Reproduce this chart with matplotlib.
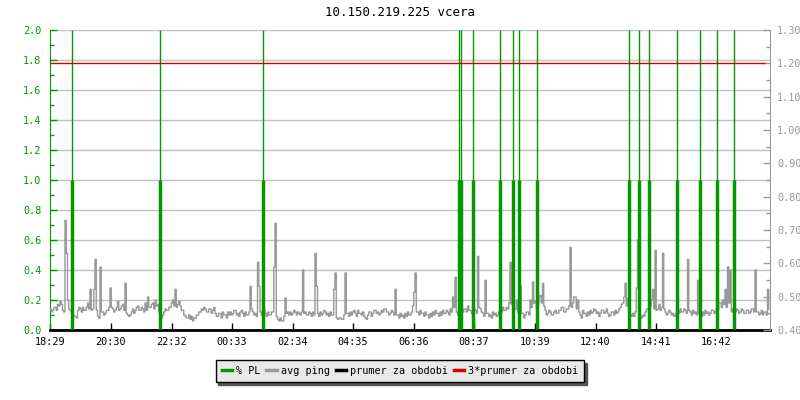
import numpy as np
import matplotlib
matplotlib.use('Agg')
import matplotlib.pyplot as plt
from matplotlib.lines import Line2D
from matplotlib.ticker import MultipleLocator, FormatStrFormatter

plt.rcParams['font.family'] = 'DejaVu Sans Mono'
plt.rcParams['font.size'] = 7.3

title = '10.150.219.225 vcera'
start = '18:29'
tick_labels = ['18:29', '20:30', '22:32', '00:33', '02:34', '04:35',
               '06:36', '08:37', '10:39', '12:40', '14:41', '16:42']

# avg ping, one value per 2.5 minutes from 18:29 (right axis units), one row = 1 hour
ping_step = 2.5
avg_ping = [
    0.463, 0.454, 0.459, 0.468, 0.468, 0.459, 0.477, 0.472, 0.486, 0.477, 0.459, 0.454,
    0.729, 0.630, 0.490, 0.463, 0.459, 0.450, 0.445, 0.441, 0.441, 0.436, 0.459, 0.468,
    0.463, 0.454, 0.468, 0.459, 0.459, 0.468, 0.481, 0.463, 0.522, 0.459, 0.463, 0.522,
    0.612, 0.459, 0.441, 0.436, 0.589, 0.454, 0.454, 0.445, 0.450, 0.459, 0.459, 0.468,
    0.526, 0.468, 0.463, 0.454, 0.459, 0.468, 0.486, 0.459, 0.463, 0.472, 0.477, 0.459,
    0.540, 0.450, 0.445, 0.441, 0.445, 0.454, 0.463, 0.450, 0.459, 0.468, 0.472, 0.459,
    0.459, 0.468, 0.463, 0.454, 0.481, 0.459, 0.499, 0.468, 0.468, 0.477, 0.481, 0.463,
    0.490, 0.472, 0.477, 0.454, 0.441, 0.436, 0.445, 0.454, 0.463, 0.459, 0.459, 0.468,
    0.468, 0.481, 0.490, 0.472, 0.522, 0.468, 0.477, 0.486, 0.472, 0.459, 0.459, 0.445,
    0.441, 0.436, 0.436, 0.445, 0.432, 0.441, 0.427, 0.436, 0.436, 0.445, 0.445, 0.454,
    0.454, 0.463, 0.459, 0.468, 0.463, 0.454, 0.454, 0.463, 0.463, 0.450, 0.459, 0.468,
    0.450, 0.441, 0.441, 0.450, 0.450, 0.436, 0.454, 0.445, 0.445, 0.436, 0.454, 0.445,
    0.454, 0.445, 0.450, 0.459, 0.459, 0.445, 0.450, 0.441, 0.454, 0.459, 0.450, 0.441,
    0.454, 0.445, 0.445, 0.454, 0.531, 0.463, 0.454, 0.445, 0.450, 0.441, 0.603, 0.531,
    0.454, 0.445, 0.454, 0.459, 0.450, 0.441, 0.454, 0.445, 0.445, 0.454, 0.454, 0.589,
    0.720, 0.441, 0.432, 0.427, 0.436, 0.427, 0.427, 0.441, 0.495, 0.450, 0.454, 0.445,
    0.454, 0.445, 0.450, 0.459, 0.454, 0.445, 0.454, 0.450, 0.445, 0.454, 0.580, 0.450,
    0.454, 0.445, 0.445, 0.454, 0.450, 0.441, 0.454, 0.445, 0.630, 0.531, 0.450, 0.441,
    0.454, 0.445, 0.450, 0.459, 0.454, 0.445, 0.450, 0.441, 0.454, 0.445, 0.445, 0.522,
    0.571, 0.436, 0.432, 0.436, 0.436, 0.432, 0.432, 0.445, 0.571, 0.450, 0.450, 0.441,
    0.454, 0.445, 0.454, 0.459, 0.450, 0.441, 0.459, 0.450, 0.450, 0.445, 0.454, 0.441,
    0.436, 0.432, 0.445, 0.454, 0.454, 0.441, 0.450, 0.459, 0.459, 0.450, 0.454, 0.445,
    0.450, 0.459, 0.454, 0.463, 0.463, 0.454, 0.454, 0.445, 0.450, 0.459, 0.454, 0.445,
    0.522, 0.445, 0.445, 0.436, 0.450, 0.441, 0.445, 0.436, 0.450, 0.441, 0.454, 0.445,
    0.445, 0.454, 0.472, 0.513, 0.571, 0.454, 0.454, 0.445, 0.459, 0.450, 0.450, 0.441,
    0.454, 0.445, 0.445, 0.436, 0.450, 0.441, 0.454, 0.445, 0.459, 0.450, 0.450, 0.441,
    0.454, 0.445, 0.459, 0.450, 0.450, 0.459, 0.454, 0.445, 0.463, 0.454, 0.499, 0.468,
    0.558, 0.454, 0.445, 0.436, 0.481, 0.459, 0.454, 0.463, 0.463, 0.454, 0.472, 0.459,
    0.459, 0.450, 0.454, 0.463, 0.459, 0.450, 0.621, 0.468, 0.463, 0.454, 0.450, 0.441,
    0.549, 0.450, 0.450, 0.441, 0.445, 0.436, 0.454, 0.445, 0.450, 0.441, 0.445, 0.454,
    0.463, 0.454, 0.468, 0.459, 0.459, 0.468, 0.463, 0.481, 0.603, 0.477, 0.571, 0.463,
    0.463, 0.490, 0.454, 0.445, 0.531, 0.450, 0.450, 0.436, 0.445, 0.454, 0.454, 0.445,
    0.490, 0.468, 0.544, 0.481, 0.486, 0.463, 0.477, 0.499, 0.504, 0.481, 0.540, 0.472,
    0.459, 0.445, 0.450, 0.459, 0.454, 0.445, 0.445, 0.454, 0.459, 0.450, 0.450, 0.459,
    0.459, 0.468, 0.468, 0.454, 0.454, 0.463, 0.463, 0.472, 0.648, 0.468, 0.481, 0.499,
    0.499, 0.463, 0.490, 0.454, 0.445, 0.436, 0.459, 0.450, 0.450, 0.441, 0.454, 0.445,
    0.459, 0.450, 0.454, 0.463, 0.459, 0.450, 0.454, 0.441, 0.450, 0.459, 0.459, 0.450,
    0.454, 0.463, 0.450, 0.441, 0.445, 0.454, 0.454, 0.445, 0.459, 0.450, 0.454, 0.463,
    0.468, 0.477, 0.481, 0.499, 0.540, 0.472, 0.495, 0.463, 0.445, 0.441, 0.450, 0.441,
    0.454, 0.526, 0.670, 0.445, 0.441, 0.436, 0.445, 0.441, 0.454, 0.463, 0.463, 0.481,
    0.472, 0.490, 0.522, 0.463, 0.639, 0.459, 0.463, 0.477, 0.459, 0.468, 0.630, 0.463,
    0.454, 0.445, 0.450, 0.459, 0.454, 0.445, 0.450, 0.441, 0.445, 0.454, 0.459, 0.450,
    0.463, 0.454, 0.454, 0.463, 0.459, 0.450, 0.612, 0.459, 0.454, 0.445, 0.459, 0.450,
    0.454, 0.445, 0.549, 0.450, 0.450, 0.441, 0.454, 0.445, 0.459, 0.450, 0.454, 0.445,
    0.450, 0.459, 0.459, 0.450, 0.454, 0.463, 0.463, 0.481, 0.481, 0.468, 0.490, 0.477,
    0.522, 0.468, 0.589, 0.481, 0.580, 0.454, 0.463, 0.445, 0.454, 0.463, 0.459, 0.450,
    0.454, 0.463, 0.459, 0.450, 0.450, 0.459, 0.459, 0.450, 0.454, 0.463, 0.463, 0.454,
    0.580, 0.454, 0.454, 0.445, 0.450, 0.459, 0.445, 0.454, 0.454, 0.445, 0.522, 0.463,
]

# packet loss events, minutes after 18:29
pl_times = [43, 219, 425, 817, 821, 845, 900, 925, 937, 973,
            1157, 1178, 1198, 1254, 1300, 1334, 1367]
pl_values = [1.0, 1.0, 1.0, 1.0, 1.0, 1.0, 1.0, 1.0, 1.0, 1.0,
             1.0, 1.0, 1.0, 1.0, 1.0, 1.0, 1.0]

prumer = 0.40
prumer3 = 1.20

def minutes(s):
    h, m = map(int, s.split(':'))
    h0, m0 = map(int, start.split(':'))
    return (h * 60 + m - h0 * 60 - m0) % 1440

t = np.arange(len(avg_ping)) * ping_step
tick_pos = [minutes(s) for s in tick_labels]

green = '#009900'
grey = '#999999'

fig = plt.figure(figsize=(8, 4), dpi=100)
ax = fig.add_axes([50 / 800, 70 / 400, 720 / 800, 300 / 400])
ax2 = ax.twinx()

ax2.plot(t, avg_ping, drawstyle='steps-post', color=grey, lw=1, zorder=2)
ax2.vlines(pl_times, 0, 1, transform=ax2.get_xaxis_transform(), colors=green, lw=1, zorder=3)
ax2.vlines(pl_times, 0, pl_values, transform=ax.transData, colors=green, lw=2.5, zorder=3)
ax2.hlines(prumer, 0, 1430, colors='black', lw=1, zorder=4)
ax2.hlines(prumer3, 0, 1430, colors='#dd0000', lw=1, zorder=4)

ax.set_xlim(0, 1440)
ax.set_ylim(0, 2)
ax2.set_ylim(0.4, 1.3)

ax.yaxis.set_major_locator(MultipleLocator(0.2))
ax.yaxis.set_minor_locator(MultipleLocator(0.1))
ax.yaxis.set_major_formatter(FormatStrFormatter('%.1f'))
ax.grid(axis='y', color='#c0c0c0', lw=1)
ax.set_xticks(tick_pos)
ax.set_xticklabels(tick_labels)
ax.tick_params(axis='x', direction='in', length=5, width=1, colors='black', pad=5)
ax.tick_params(axis='y', which='major', direction='in', length=5, width=1, colors=green, pad=6)
ax.tick_params(axis='y', which='minor', direction='in', length=3, width=1, colors=green)

ax2.yaxis.set_major_locator(MultipleLocator(0.1))
ax2.yaxis.set_minor_locator(MultipleLocator(0.05))
ax2.yaxis.set_major_formatter(FormatStrFormatter('%.2f'))
ax2.tick_params(axis='y', which='major', direction='in', length=5, width=1, colors=grey, pad=5)
ax2.tick_params(axis='y', which='minor', direction='in', length=3, width=1, colors=grey)

for s in ['top', 'right']:
    ax.spines[s].set_visible(False)
ax.spines['left'].set_color(green)
ax.spines['bottom'].set_color('black')
ax.spines['bottom'].set_linewidth(2)
for s in ['top', 'left', 'bottom']:
    ax2.spines[s].set_visible(False)
ax2.spines['right'].set_color(grey)

fig.text(0.5, 1 - 13 / 400, title, ha='center', va='center', color='black', fontsize=9)

handles = [Line2D([], [], color=green, lw=2.5),
           Line2D([], [], color=grey, lw=2.5),
           Line2D([], [], color='black', lw=2.5),
           Line2D([], [], color='#dd0000', lw=2.5)]
labels = ['% PL', 'avg ping', 'prumer za obdobi', '3*prumer za obdobi']
leg = ax2.legend(handles, labels, loc='center', bbox_to_anchor=(0.5, 1 - 371 / 400),
                 bbox_transform=fig.transFigure, ncol=4, handlelength=1.0,
                 handletextpad=0.4, columnspacing=0.6, borderpad=0.6,
                 fancybox=False, framealpha=1, edgecolor='black', facecolor='#e8e8e8',
                 shadow={'color': '#555555', 'alpha': 1})
leg.get_frame().set_linewidth(1)

fig.savefig('out.png', dpi=100)
